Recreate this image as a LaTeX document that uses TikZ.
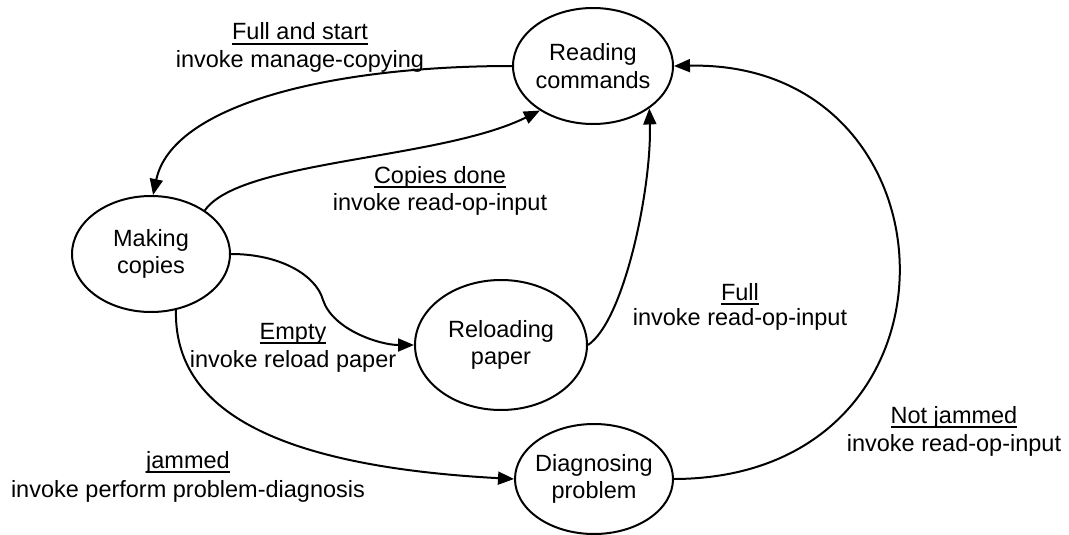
\documentclass[tikz,border=0pt]{standalone}
\usepackage{fontspec}
\setmainfont{Liberation Sans}
\usetikzlibrary{shapes.geometric,arrows.meta}
% underline at a fixed depth below the baseline
\newcommand\ulword[1]{\setbox0\hbox{#1}\rlap{\rule[-4.8pt]{\wd0}{1.8pt}}\box0}
\begin{document}
\begin{tikzpicture}[x=1pt,y=-1pt,
  state/.style={draw, ellipse, line width=2pt, inner sep=0pt},
  statetext/.style={align=center, font=\fontsize{23.5}{27.5}\selectfont, inner sep=0pt},
  lbl/.style={anchor=base, font=\fontsize{23.5}{27.5}\selectfont, inner sep=0pt},
  trans/.style={line width=2pt, -{Triangle[length=16pt,width=13pt]}}]
\useasboundingbox (0,0) rectangle (1069,535);

% states
\node[state, minimum width=160pt, minimum height=116pt] (rc) at (593,66) {};
\node[statetext] (rc-t) at (rc) {Reading\\commands};
\node[state, minimum width=158pt, minimum height=116pt] (mc) at (151,254) {};
\node[statetext] (mc-t) at (mc) {Making\\copies};
\node[state, minimum width=172pt, minimum height=130pt] (rp) at (501,345) {};
\node[statetext] (rp-t) at (rp) {Reloading\\paper};
\node[state, minimum width=158pt, minimum height=110pt] (dp) at (594,479) {};
\node[statetext] (dp-t) at (dp) {Diagnosing\\problem};

% transitions
\draw[trans] (rc.west) .. controls (330,66) and (172,105) .. (mc.88);
\draw[trans] (mc.39) .. controls (240,160) and (440,160) .. (rc.220);
\draw[trans] (mc.east) .. controls (280,254) and (316,275) .. (323,300)
                       .. controls (333,330) and (380,345) .. (rp.west);
\draw[trans] (rp.east) .. controls (625,320) and (652,185) .. (rc.-37);
\draw[trans] (mc.-66) .. controls (174,400) and (255,465) .. (dp.west);
\draw[trans] (dp.east) .. controls (980,478) and (965,60) .. (rc.east);

% transition labels
\node[lbl] (l1a) at (300,40) {\ulword{Full and start}};
\node[lbl] (l1b) at (300,67) {invoke manage-copying};
\node[lbl] (l2a) at (440,183) {\ulword{Copies done}};
\node[lbl] (l2b) at (440,210) {invoke read-op-input};
\node[lbl] (l3a) at (293,339) {\ulword{Empty}};
\node[lbl] (l3b) at (293,367) {invoke reload paper};
\node[lbl] (l4a) at (740,300) {\ulword{Full}};
\node[lbl] (l4b) at (740,325) {invoke read-op-input};
\node[lbl] (l5a) at (188,468) {\ulword{jammed}};
\node[lbl] (l5b) at (188,497) {invoke perform problem-diagnosis};
\node[lbl] (l6a) at (954,423) {\ulword{Not jammed}};
\node[lbl] (l6b) at (954,451) {invoke read-op-input};
\end{tikzpicture}
\end{document}
